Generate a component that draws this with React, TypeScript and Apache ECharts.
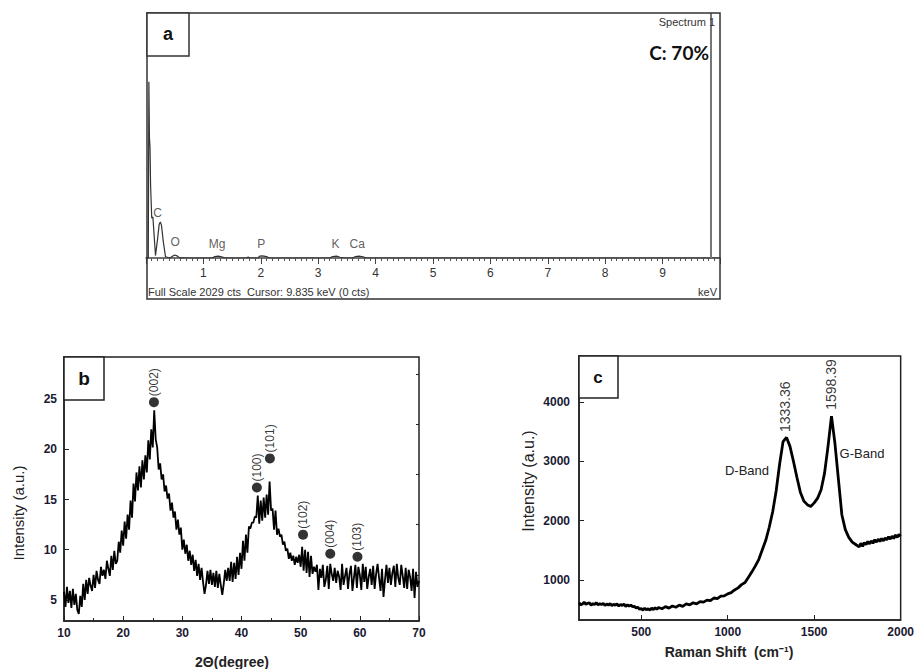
import React, { useEffect, useRef } from 'react';
import * as echarts from 'echarts';

const FONT = '"Liberation Sans", Arial, sans-serif';

// ---------- Panel a: EDS spectrum ----------
const edsSpectrum: [number, number][] = [
  [0, 0], [0.04, 0], [0.05, 1460], [0.06, 1000], [0.07, 920], [0.08, 600], [0.1, 330], [0.12, 340],
  [0.14, 200], [0.165, 20], [0.2, 150], [0.23, 280], [0.25, 298], [0.27, 270], [0.3, 140], [0.34, 10],
  [0.42, 0], [0.46, 15], [0.5, 25], [0.54, 18], [0.58, 3], [0.7, 0], [1.15, 0], [1.2, 12], [1.26, 16],
  [1.32, 10], [1.38, 0], [1.75, 0], [1.78, 8], [1.81, 0], [1.95, 0], [1.98, 15], [2.03, 18], [2.1, 12],
  [2.15, 0], [3.2, 0], [3.25, 12], [3.32, 15], [3.38, 6], [3.45, 0], [3.6, 0], [3.65, 12], [3.71, 16],
  [3.78, 10], [3.84, 0], [10, 0],
];
const edsElements = ['C', 'O', 'Mg', 'P', 'K', 'Ca'];
const edsElementPos: [number, number][] = [
  [0.2, 373], [0.51, 132], [1.24, 116], [2.01, 116], [3.3, 116], [3.68, 116],
];
const edsTickLabels = [1, 2, 3, 4, 5, 6, 7, 8, 9];
const edsCursor = 9.835;
const edsFullScale = 2029;

// ---------- Panel b: XRD ----------
// each row: degree, values at +0, +0.25, +0.5, +0.75
const xrdRows: number[][] = [
  [10, 5.8, 4.3, 6.3, 4.7], [11, 5.9, 4.2, 6.1, 4.5], [12, 5.6, 4.0, 3.6, 5.4], [13, 4.3, 6.6, 5.0, 7.0],
  [14, 5.6, 7.2, 6.4, 5.9], [15, 7.5, 6.2, 7.9, 7.0], [16, 6.6, 8.3, 7.4, 8.0], [17, 7.1, 8.9, 8.1, 7.4],
  [18, 9.4, 8.0, 9.9, 8.6], [19, 8.9, 10.8, 9.7, 11.9], [20, 10.4, 12.8, 11.1, 13.5], [21, 12.0, 14.9, 13.2, 16.6],
  [22, 14.8, 17.7, 15.9, 18.3], [23, 16.2, 18.9, 17.0, 19.4], [24, 17.7, 20.9, 19.0, 22.0], [25, 20.2, 23.9, 21.0, 20.2],
  [26, 18.0, 18.6, 17.0, 17.5], [27, 15.8, 16.4, 15.1, 15.6], [28, 13.9, 14.7, 13.2, 13.8], [29, 12.0, 13.0, 11.5, 12.2],
  [30, 10.0, 11.0, 9.6, 10.5], [31, 8.9, 9.9, 8.5, 9.5], [32, 7.9, 9.0, 7.4, 8.6], [33, 7.0, 8.2, 6.8, 5.6],
  [34, 6.5, 7.9, 6.6, 8.0], [35, 6.5, 7.7, 6.3, 7.9], [36, 6.2, 7.6, 6.5, 5.5], [37, 6.6, 8.0, 6.9, 8.2],
  [38, 6.9, 8.8, 6.8, 8.7], [39, 7.1, 9.3, 7.5, 9.7], [40, 8.1, 10.9, 8.9, 11.5], [41, 9.7, 12.3, 12.1, 12.7],
  [42, 12.7, 13.3, 13.2, 15.4], [43, 12.6, 14.9, 12.9, 15.2], [44, 13.2, 15.5, 13.5, 16.8], [45, 13.9, 14.1, 12.0, 13.9],
  [46, 11.5, 12.1, 11.3, 11.5], [47, 10.5, 10.8, 9.9, 10.1], [48, 9.1, 9.7, 8.9, 9.4], [49, 8.5, 9.3, 8.7, 9.5],
  [50, 8.3, 10.3, 7.9, 10.0], [51, 7.7, 9.8, 7.3, 9.4], [52, 7.6, 8.3, 7.8, 8.5], [53, 6.0, 8.1, 7.2, 8.5],
  [54, 6.3, 7.0, 8.4, 6.1], [55, 8.6, 7.6, 6.9, 8.2], [56, 6.7, 7.9, 7.3, 6.0], [57, 8.6, 6.5, 7.4, 8.2],
  [58, 6.1, 7.6, 8.4, 5.9], [59, 7.2, 8.5, 6.2, 8.3], [60, 7.5, 6.0, 8.6, 6.8], [61, 8.3, 6.1, 7.3, 8.1],
  [62, 6.5, 8.4, 6.1, 7.6], [63, 8.6, 7.2, 5.9, 8.1], [64, 5.3, 7.0, 8.5, 6.7], [65, 8.2, 6.5, 7.7, 8.4],
  [66, 6.3, 8.6, 7.2, 6.5], [67, 8.5, 7.4, 6.2, 8.2], [68, 6.1, 8.0, 7.3, 5.9], [69, 8.1, 5.2, 7.8, 6.3],
  [70, 6.9],
];
const xrdPeakNames = ['(002)', '(100)', '(101)', '(102)', '(004)', '(103)'];
const xrdPeakAngles = [25.2, 42.6, 44.8, 50.4, 55.0, 59.6];
const xrdPeakHeights = [24.7, 16.2, 19.1, 11.5, 9.6, 9.3];
const xrdYTicks = [5, 10, 15, 20, 25];
const xrdYMinorTicks = [7.5, 12.5, 17.5, 22.5, 27.5];

// ---------- Panel c: Raman ----------
const ramanSpectrum: [number, number][] = [
  [140, 620], [150, 585], [160, 600], [170, 630], [180, 595], [190, 610], [200, 620], [210, 580], [220, 605],
  [230, 590], [240, 620], [250, 585], [260, 605], [270, 590], [280, 610], [290, 575], [300, 600], [310, 580],
  [320, 605], [330, 570], [340, 595], [350, 580], [360, 600], [370, 565], [380, 590], [390, 575], [400, 595],
  [410, 560], [420, 585], [430, 565], [440, 580], [450, 555], [460, 560], [470, 530], [480, 545], [490, 510],
  [500, 525], [510, 495], [520, 530], [530, 500], [540, 520], [550, 495], [560, 530], [570, 505], [580, 535],
  [590, 510], [600, 540], [620, 520], [640, 555], [660, 530], [680, 565], [700, 545], [720, 580], [740, 560],
  [760, 600], [780, 585], [800, 620], [820, 600], [840, 640], [860, 630], [880, 665], [900, 655], [920, 700],
  [940, 690], [960, 730], [980, 735], [1000, 770], [1020, 790], [1040, 835], [1060, 870], [1080, 925],
  [1100, 960], [1120, 1050], [1140, 1140], [1160, 1240], [1180, 1350], [1200, 1510], [1220, 1670], [1240, 1890],
  [1260, 2150], [1280, 2500], [1300, 2950], [1320, 3330], [1340, 3400], [1360, 3250], [1380, 3000], [1400, 2730],
  [1420, 2480], [1440, 2330], [1460, 2270], [1480, 2240], [1500, 2300], [1520, 2380], [1540, 2520], [1560, 2800],
  [1580, 3250], [1600, 3760], [1620, 3300], [1640, 2700], [1660, 2100], [1680, 1850], [1700, 1720], [1720, 1640],
  [1740, 1600], [1760, 1560], [1770, 1620], [1780, 1570], [1790, 1630], [1800, 1600], [1810, 1650], [1820, 1610],
  [1830, 1660], [1840, 1620], [1850, 1680], [1860, 1640], [1870, 1690], [1880, 1650], [1890, 1700], [1900, 1660],
  [1910, 1710], [1920, 1680], [1930, 1730], [1940, 1690], [1950, 1740], [1960, 1700], [1970, 1760], [1980, 1720],
  [1990, 1770], [2000, 1740],
];
const ramanPeakNames = ['1333.36', '1598.39'];
const ramanPeakPos: [number, number][] = [[1333.36, 3490], [1598.39, 3865]];
const ramanXTicks = [500, 1000, 1500, 2000];
const ramanYTicks = [1000, 2000, 3000, 4000];

function buildXrd(): [number, number][] {
  const out: [number, number][] = [];
  xrdRows.forEach((row) => {
    for (let k = 1; k < row.length; k++) out.push([row[0] + (k - 1) * 0.25, row[k]]);
  });
  return out;
}

const tickLabelStyle = { color: '#1a1a33', fontSize: 12, fontWeight: 'bold' as const, fontFamily: FONT };

function txt(x: number, y: number, text: string, font: string, extra: any = {}) {
  return {
    type: 'text',
    x,
    y,
    rotation: extra.rotation || 0,
    style: {
      text,
      font,
      fill: extra.fill || '#222',
      align: extra.align || 'center',
      verticalAlign: 'middle',
      textAlign: extra.align || 'center',
      textVerticalAlign: 'middle',
    },
    z: 100,
  };
}

export default function App() {
  const ref = useRef<HTMLDivElement>(null);
  useEffect(() => {
    if (!ref.current) return;
    const chart = echarts.init(ref.current, null, { renderer: 'svg' });
    const option: any = {
      animation: false,
      backgroundColor: '#ffffff',
      textStyle: { fontFamily: FONT },
      grid: [
        { left: 146, top: 13, width: 574, height: 245 },
        { left: 64, top: 357, width: 355, height: 264, show: true, borderColor: '#222', borderWidth: 1.5 },
        { left: 579, top: 356, width: 326, height: 264, show: true, borderColor: '#222', borderWidth: 1.5 },
      ],
      xAxis: [
        {
          type: 'value', gridIndex: 0, min: 0, max: 10, interval: 1,
          axisLine: { lineStyle: { color: '#444', width: 1.5 } },
          axisTick: { show: true, length: 6, lineStyle: { color: '#444' } },
          minorTick: { show: true, splitNumber: 10, length: 3, lineStyle: { color: '#555' } },
          axisLabel: {
            formatter: (v: number) => (edsTickLabels.indexOf(v) >= 0 ? String(v) : ''),
            color: '#333', fontSize: 12, fontFamily: FONT, margin: 9,
          },
          splitLine: { show: false },
        },
        {
          type: 'value', gridIndex: 1, min: 10, max: 70, interval: 10,
          axisLine: { lineStyle: { color: '#222', width: 1.5 } },
          axisTick: { inside: true, length: 5, lineStyle: { color: '#222' } },
          minorTick: { show: true, splitNumber: 2, length: 3, lineStyle: { color: '#222' } },
          axisLabel: { ...tickLabelStyle, margin: 6 },
          splitLine: { show: false },
        },
        {
          type: 'value', gridIndex: 2, min: 140, max: 2000,
          axisLine: { lineStyle: { color: '#222', width: 1.5 } },
          axisTick: { inside: true, length: 5, customValues: ramanXTicks, lineStyle: { color: '#222' } },
          axisLabel: { ...tickLabelStyle, margin: 6, customValues: ramanXTicks, formatter: (v: number) => String(v) },
          splitLine: { show: false },
        },
      ],
      yAxis: [
        { type: 'value', gridIndex: 0, min: 0, max: edsFullScale, show: false },
        {
          type: 'value', gridIndex: 1, min: 2.9, max: 29.2,
          axisLine: { show: true, lineStyle: { color: '#222', width: 1.5 } },
          axisTick: { show: true, inside: true, length: 5, customValues: xrdYTicks, lineStyle: { color: '#222' } },
          axisLabel: { ...tickLabelStyle, margin: 7, customValues: xrdYTicks },
          splitLine: { show: false },
        },
        {
          type: 'value', gridIndex: 2, min: 330, max: 4770,
          axisLine: { show: true, lineStyle: { color: '#222', width: 1.5 } },
          axisTick: { show: true, inside: true, length: 5, customValues: ramanYTicks, lineStyle: { color: '#222' } },
          axisLabel: { ...tickLabelStyle, margin: 9, customValues: ramanYTicks, formatter: (v: number) => String(v) },
          splitLine: { show: false },
        },
        {
          type: 'value', gridIndex: 1, min: 2.9, max: 29.2,
          axisLine: { show: false },
          axisTick: { show: true, inside: true, length: 3, customValues: xrdYMinorTicks, lineStyle: { color: '#222' } },
          axisLabel: { show: false },
          splitLine: { show: false },
        },
      ],
      series: [
        {
          type: 'line', xAxisIndex: 0, yAxisIndex: 0, data: edsSpectrum, showSymbol: false,
          lineStyle: { color: '#333', width: 1.2 },
          markLine: {
            silent: true, symbol: 'none', label: { show: false },
            lineStyle: { color: '#777', width: 2, type: 'solid' },
            data: [{ xAxis: edsCursor }],
          },
        },
        {
          type: 'scatter', xAxisIndex: 0, yAxisIndex: 0, symbolSize: 0,
          data: edsElementPos.map((p, i) => ({ value: p, name: edsElements[i] })),
          label: { show: true, position: 'inside', formatter: '{b}', color: '#333', fontSize: 12, fontFamily: FONT },
        },
        {
          type: 'line', xAxisIndex: 1, yAxisIndex: 1, data: buildXrd(), showSymbol: false,
          lineStyle: { color: '#000', width: 1.8 },
        },
        {
          type: 'scatter', xAxisIndex: 1, yAxisIndex: 1, symbolSize: 10, itemStyle: { color: '#000' },
          data: xrdPeakAngles.map((a, i) => ({ value: [a, xrdPeakHeights[i]], name: xrdPeakNames[i] })),
          label: {
            show: true, position: 'top', distance: 1, rotate: 90, align: 'left', verticalAlign: 'middle',
            formatter: '{b}', color: '#000', fontSize: 12, fontFamily: FONT,
          },
          z: 5,
        },
        {
          type: 'line', xAxisIndex: 2, yAxisIndex: 2, data: ramanSpectrum, showSymbol: false,
          lineStyle: { color: '#000', width: 2.8 },
        },
        {
          type: 'scatter', xAxisIndex: 2, yAxisIndex: 2, symbolSize: 0,
          data: ramanPeakPos.map((p, i) => ({ value: p, name: ramanPeakNames[i] })),
          label: {
            show: true, position: 'top', distance: 0, rotate: 90, align: 'left', verticalAlign: 'middle',
            formatter: '{b}', color: '#000', fontSize: 14, fontFamily: FONT,
          },
        },
      ],
      graphic: [
        { type: 'rect', shape: { x: 147, y: 13, width: 573, height: 286 }, style: { fill: 'none', stroke: '#333', lineWidth: 1.5 }, z: 50 },
        { type: 'rect', shape: { x: 147, y: 13, width: 42, height: 43 }, style: { fill: '#fff', stroke: '#333', lineWidth: 1.5 }, z: 60 },
        { type: 'rect', shape: { x: 64, y: 357, width: 40, height: 43 }, style: { fill: '#fff', stroke: '#222', lineWidth: 1.5 }, z: 60 },
        { type: 'rect', shape: { x: 579, y: 356, width: 39, height: 42 }, style: { fill: '#fff', stroke: '#222', lineWidth: 1.5 }, z: 60 },
        txt(168, 34, 'a', `bold 18px ${FONT}`, { fill: '#111' }),
        txt(84, 378, 'b', `bold 19px ${FONT}`, { fill: '#111' }),
        txt(598, 377, 'c', `bold 17px ${FONT}`, { fill: '#111' }),
        txt(715, 22, 'Spectrum 1', `11px ${FONT}`, { align: 'right', fill: '#333' }),
        txt(709, 52, 'C: 70%', `bold 19px Lato, ${FONT}`, { align: 'right', fill: '#111' }),
        txt(148, 292, 'Full Scale 2029 cts  Cursor: 9.835 keV (0 cts)', `11px ${FONT}`, { align: 'left', fill: '#333' }),
        txt(717, 292, 'keV', `11px ${FONT}`, { align: 'right', fill: '#333' }),
        txt(18, 513, 'Intensity (a.u.)', `15px ${FONT}`, { rotation: Math.PI / 2, fill: '#222' }),
        txt(232, 662, '2Θ(degree)', `bold 14px ${FONT}`, { fill: '#222' }),
        txt(528, 481, 'Intensity (a.u.)', `16px ${FONT}`, { rotation: Math.PI / 2, fill: '#222' }),
        txt(729, 652, 'Raman Shift  (cm⁻¹)', `bold 14px ${FONT}`, { fill: '#222' }),
        txt(747, 470, 'D-Band', `13px ${FONT}`, { fill: '#222' }),
        txt(862, 453, 'G-Band', `13px ${FONT}`, { fill: '#222' }),
      ],
    };
    chart.setOption(option);
    return () => chart.dispose();
  }, []);
  return (
    <div
      ref={ref}
      style={{ position: 'fixed', left: 0, top: 0, width: 917, height: 669, background: '#fff' }}
    />
  );
}
